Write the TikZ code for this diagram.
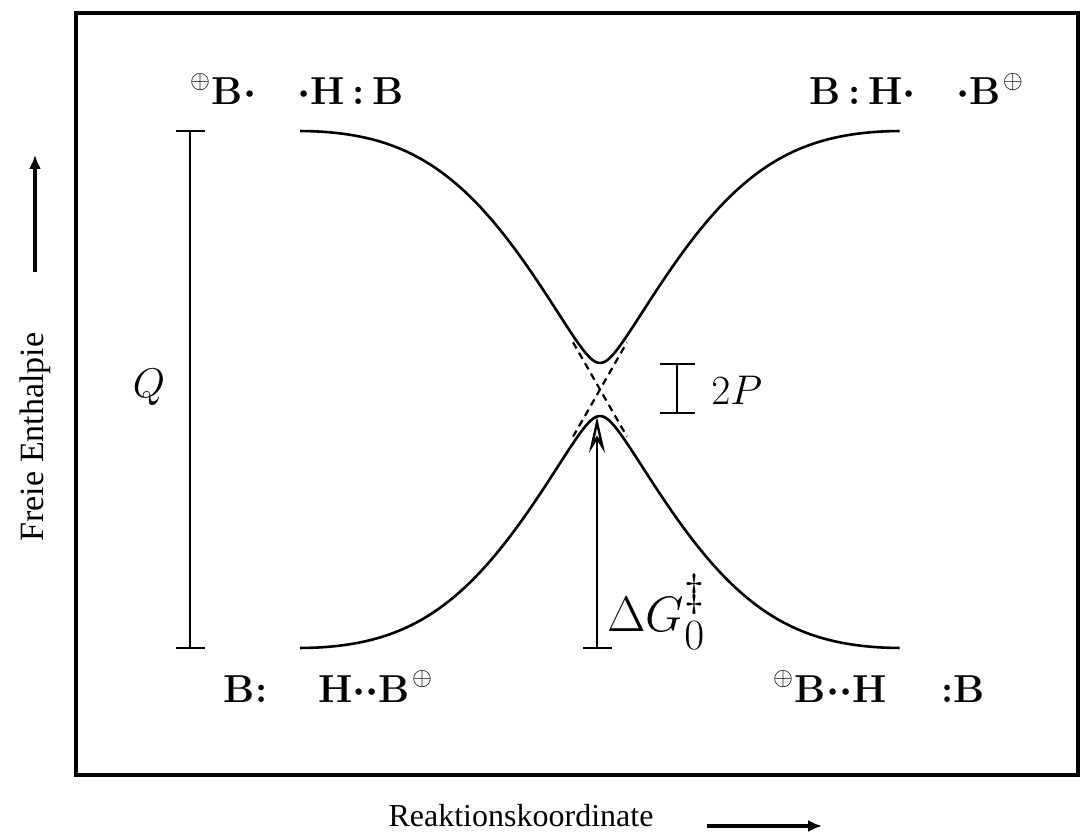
\documentclass[tikz,border=0pt]{standalone}
\usepackage{fontspec}
\usepackage{amsmath}
\newfontfamily\axisfont{Liberation Serif}
\usetikzlibrary{arrows.meta}
\newcommand{\bdot}{{\boldmath$\cdot$}}
\newcommand{\bddot}{{\boldmath${\cdot}{\cdot}$}}
\newcommand{\plusup}{\raisebox{0.42em}{\scalebox{0.62}{$\oplus$}}}
\begin{document}
\begin{tikzpicture}[x=0.5pt,y=-0.5pt,
  declare function={ff(\x)=cos(180*\x)*(1+0.3*(1-cos(180*\x)*cos(180*\x)));
                    gg(\x)=2.571*ff(\x);
                    yu(\x)=389.5-100*sqrt(gg(\x)*gg(\x)+0.0702);
                    yl(\x)=389.5+100*sqrt(gg(\x)*gg(\x)+0.0702);},
  curve/.style={line width=1.3pt},
  bar/.style={line width=1.2pt},
  dia/.style={line width=1.1pt, dash pattern=on 3.5pt off 2.5pt},
  species/.style={font=\fontsize{19.5}{24}\selectfont, anchor=base, inner sep=0pt},
  mathlbl/.style={font=\fontsize{21}{25}\selectfont, inner sep=0pt},
  axislbl/.style={font=\axisfont\fontsize{16}{19}\selectfont, inner sep=0pt},
  axisarrow/.style={line width=2pt, -{Latex[length=7pt,width=6pt]}},
  frame/.style={line width=1.6pt}]
\useasboundingbox (0,0) rectangle (1080,833);
% frame
\draw[frame] (76,13) rectangle (1078,775);
% adiabatic curves
\draw[curve] plot[domain=0:1, samples=240, smooth] ({300+600*\x},{yu(\x)});
\draw[curve] plot[domain=0:1, samples=240, smooth] ({300+600*\x},{yl(\x)});
% diabatic (dashed) near crossing
\draw[dia] plot[domain=0.455:0.545, samples=30, smooth] ({300+600*\x},{389.5-258.5*ff(\x)});
\draw[dia] plot[domain=0.455:0.545, samples=30, smooth] ({300+600*\x},{389.5+258.5*ff(\x)});
% Q bar
\coordinate (qtop) at (190,131);
\coordinate (qbot) at (190,648);
\draw[bar] (qtop) -- (qbot);
\draw[bar] ([xshift=-7pt]qtop) -- ([xshift=7.5pt]qtop);
\draw[bar] ([xshift=-7pt]qbot) -- ([xshift=7.5pt]qbot);
\node[mathlbl] (Q) at (149,387) {$Q$};
% 2P bar
\coordinate (ptop) at (677,364);
\coordinate (pbot) at (677,413);
\draw[bar] (ptop) -- (pbot);
\draw[bar] ([xshift=-8.5pt]ptop) -- ([xshift=9pt]ptop);
\draw[bar] ([xshift=-8.5pt]pbot) -- ([xshift=9pt]pbot);
\node[mathlbl, anchor=west] (P) at (711,390) {$2P$};
% Delta G arrow
\coordinate (gbot) at (597,648);
\coordinate (gtop) at (597,417);
\draw[bar, -{Stealth[open,length=18pt,width=8pt,inset=6.5pt,line width=1.2pt]}] (gbot) -- (gtop);
\draw[bar] ([xshift=-7pt]gbot) -- ([xshift=7.5pt]gbot);
\node[font=\fontsize{23}{27}\selectfont, inner sep=0pt, anchor=west] (G) at (607,612)
  {$\Delta G_{\scalebox{1.25}{$\scriptstyle 0$}}^{\scalebox{1.3}{$\scriptstyle\ddagger$}}$};
% species labels
\node[species] (tl) at (297,105) {\plusup\kern0.05em\textbf{B}\bdot\hspace{1.05em}\bdot\textbf{H}\hspace{0.2em}\textbf{:}\hspace{0.2em}\textbf{B}};
\node[species] (tr) at (916,105) {\textbf{B}\hspace{0.2em}\textbf{:}\hspace{0.2em}\textbf{H}\bdot\hspace{1.05em}\bdot\textbf{B}\kern0.05em\plusup};
\node[species] (bl) at (328,702) {\textbf{B:}\hspace{1.3em}\textbf{H}\bddot\textbf{B}\kern0.05em\plusup};
\node[species] (br) at (879,702) {\plusup\kern0.05em\textbf{B}\bddot\textbf{H}\hspace{1.4em}\textbf{:B}};
% axes
\node[axislbl, rotate=90] (ylab) at (35,437) {\fontsize{17}{20}\selectfont Freie Enthalpie};
\coordinate (ya0) at (35,272);
\coordinate (ya1) at (35,155);
\draw[axisarrow] (ya0) -- (ya1);
\node[axislbl, anchor=base] (xlab) at (521,826) {Reaktionskoordinate};
\coordinate (xa0) at (707,826);
\coordinate (xa1) at (822,826);
\draw[axisarrow] (xa0) -- (xa1);
\end{tikzpicture}
\end{document}
